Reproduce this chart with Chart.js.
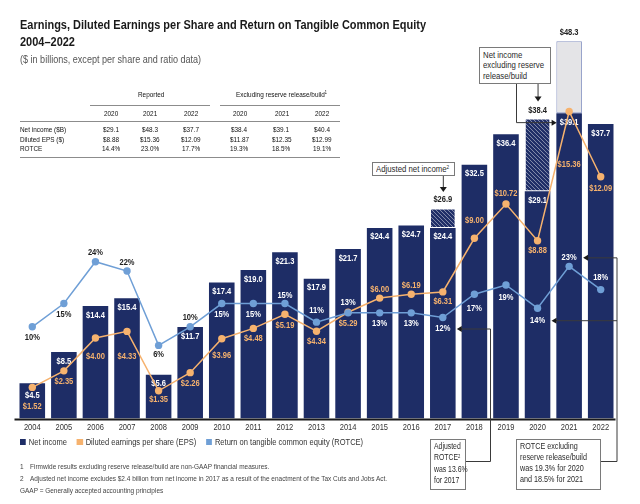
<!DOCTYPE html>
<html>
<head>
<meta charset="utf-8">
<script src="https://cdn.jsdelivr.net/npm/chart.js@4.4.1/dist/chart.umd.min.js"></script>
<style>
body { margin:0; background:#fff; }
#wrap { position:relative; width:640px; height:504px; overflow:hidden; font-family:"Liberation Sans",Arial,sans-serif; color:#222; }
#wrap canvas { position:absolute; left:0; top:0; }
.t { position:absolute; white-space:nowrap; transform-origin:0 0; }
.title { font-size:12px; font-weight:bold; line-height:17px; color:#1a1a1a; }
.sub { font-size:10px; line-height:12px; color:#555; }
.tb { font-size:7.8px; line-height:9px; color:#111; }
.rule { position:absolute; height:0; border-top:1px solid #8c8c8c; }
.box { position:absolute; border:1px solid #7a7a7a; background:#fff; box-sizing:border-box; white-space:nowrap; color:#2a2a2a; padding-left:3px; }
.box span.in { display:inline-block; transform:scaleX(0.82); transform-origin:0 0; color:#2a2a2a; }
.sup { font-size:60%; position:relative; top:-0.45em; }
.legend { position:absolute; left:20px; top:437px; font-size:9.2px; line-height:11px; color:#333; white-space:nowrap; transform:scaleX(0.82); transform-origin:0 0; }
.legend span.sq { display:inline-block; width:7.3px; height:6px; margin-right:3.5px; vertical-align:0px; }
.legend span.it { margin-right:12px; }
.fn { font-size:7.9px; line-height:9px; color:#444; }
</style>
</head>
<body>
<div id="wrap">
  <canvas id="chart" width="640" height="504"></canvas>
</div>
<script>
// chart data
const years = ['2004','2005','2006','2007','2008','2009','2010','2011','2012','2013','2014','2015','2016','2017','2018','2019','2020','2021','2022']
const netIncome = [4.5, 8.5, 14.4, 15.4, 5.6, 11.7, 17.4, 19.0, 21.3, 17.9, 21.7, 24.4, 24.7, 24.4, 32.5, 36.4, 29.1, 48.3, 37.7]
// adjusted (2017) and excluding reserve release/build (2020, 2021)
const netIncomeAdj = [null, null, null, null, null, null, null, null, null, null, null, null, null, 26.9, null, null, 38.4, 39.1, null]
const eps = [1.52, 2.35, 4.00, 4.33, 1.35, 2.26, 3.96, 4.48, 5.19, 4.34, 5.29, 6.00, 6.19, 6.31, 9.00, 10.72, 8.88, 15.36, 12.09]
const rotce = [10, 15, 24, 22, 6, 10, 15, 15, 15, 11, 13, 13, 13, 12, 17, 19, 14, 23, 18]

// table data
const tableYears = ['2020', '2021', '2022']
const reportedNet = [29.1, 48.3, 37.7]
const exReserveNet = [38.4, 39.1, 40.4]
const reportedEps = [8.88, 15.36, 12.09]
const exReserveEps = [11.87, 12.35, 12.99]
const reportedRotce = [14.4, 23.0, 17.7]
const exReserveRotce = [19.3, 18.5, 19.1]

// label offsets (px from the point)
const epsLabelDy = [19, 11, 18, 25, 9, 11, 17, 10, 11, 10, 11, -9, -9, 10, -18, -11, 10, 53, 12]
const rotceLabelDy = [11, 11, -9, -9, 9, -9, 11, 11, -8, -12, -10, 11, 11, 11, 14, 13, 12, -9, -12]

const navy = '#1e2d66'
const orange = '#f6b26e'
const blue = '#6f9fd6'
const FONT = '"Liberation Sans",Arial,sans-serif'
const K = 0.82 // horizontal squeeze, the original uses a condensed face

const wrap = document.getElementById('wrap')

function put(html, x, y, cls, align, k){
    k = k || K
    const d = document.createElement('div')
    d.className = 't ' + cls
    d.innerHTML = html
    d.style.transform = 'scaleX(' + k + ')'
    wrap.appendChild(d)
    const lh = parseFloat(getComputedStyle(d).lineHeight)
    const w = d.offsetWidth * k
    d.style.top = (y - lh / 2) + 'px'
    d.style.left = (align === 'center' ? x - w / 2 : align === 'right' ? x - w : x) + 'px'
    return d
}
function rule(x1, x2, y){
    const d = document.createElement('div')
    d.className = 'rule'
    d.style.left = x1 + 'px'
    d.style.width = (x2 - x1) + 'px'
    d.style.top = y + 'px'
    wrap.appendChild(d)
}
function box(html, x, y, w, h, size, lh, padTop){
    const d = document.createElement('div')
    d.className = 'box'
    d.style.left = x + 'px'; d.style.top = y + 'px'
    d.style.width = w + 'px'; d.style.height = h + 'px'
    d.style.fontSize = size + 'px'; d.style.lineHeight = lh + 'px'
    d.style.paddingTop = padTop + 'px'
    d.innerHTML = '<span class="in">' + html + '</span>'
    wrap.appendChild(d)
}

// title
put('Earnings, Diluted Earnings per Share and Return on Tangible Common Equity', 20, 25, 'title', 'left', 0.915)
put('2004–2022', 20, 42.3, 'title', 'left', 0.915)
put('($ in billions, except per share and ratio data)', 20, 60, 'sub', 'left', 0.905)

// table
const colX = [111, 150, 191, 239.5, 281.5, 322]
put('Reported', 151, 94.3, 'tb', 'center')
put('Excluding reserve release/build<span class="sup">1</span>', 282, 94, 'tb', 'center')
rule(90, 210, 104.5)
rule(220, 340, 104.5)
tableYears.concat(tableYears).forEach((y, i) => put(y, colX[i], 113.3, 'tb', 'center'))
rule(20, 340, 120.5)
const money1 = v => '$' + v.toFixed(1)
const money2 = v => '$' + v.toFixed(2)
const pct = v => v.toFixed(1) + '%'
const rows = [
    ['Net income ($B)', reportedNet.concat(exReserveNet).map(money1), 129.3],
    ['Diluted EPS ($)', reportedEps.concat(exReserveEps).map(money2), 139.2],
    ['ROTCE', reportedRotce.concat(exReserveRotce).map(pct), 148.7]
]
rows.forEach(r => {
    put(r[0], 20, r[2], 'tb')
    r[1].forEach((v, i) => put(v, colX[i], r[2], 'tb', 'center'))
})
rule(20, 340, 156.5)

// annotation boxes
box('Adjusted net income<span class="sup">2</span>', 372, 161.5, 83, 14, 9.5, 11, 0.5)
box('Net income<br>excluding reserve<br>release/build', 479, 46.5, 71.5, 37, 9.5, 10.8, 2)
box('Adjusted<br>ROTCE<span class="sup">2</span><br>was 13.6%<br>for 2017', 430, 438.5, 36, 51, 8.4, 11, 1.5)
box('ROTCE excluding<br>reserve release/build<br>was 19.3% for 2020<br>and 18.5% for 2021', 516, 438.5, 84.5, 51, 8.8, 11, 1.5)

// legend
const lg = document.createElement('div')
lg.className = 'legend'
lg.innerHTML = '<span class="it"><span class="sq" style="background:' + navy + '"></span>Net income</span>' +
    '<span class="it"><span class="sq" style="background:' + orange + '"></span>Diluted earnings per share (EPS)</span>' +
    '<span class="it"><span class="sq" style="background:' + blue + '"></span>Return on tangible common equity (ROTCE)</span>'
wrap.appendChild(lg)

// footnotes
put('1', 20, 466.7, 'fn')
put('Firmwide results excluding reserve release/build are non-GAAP financial measures.', 30, 466.7, 'fn')
put('2', 20, 478.3, 'fn')
put('Adjusted net income excludes $2.4 billion from net income in 2017 as a result of the enactment of the Tax Cuts and Jobs Act.', 30, 478.3, 'fn')
put('GAAP = Generally accepted accounting principles', 20, 490, 'fn')

// hatch pattern for adjusted bars
function hatch(){
    const c = document.createElement('canvas')
    c.width = 4; c.height = 4
    const g = c.getContext('2d')
    g.fillStyle = '#fff'
    g.fillRect(0, 0, 4, 4)
    g.strokeStyle = navy
    g.lineWidth = 2.5
    g.beginPath()
    g.moveTo(-1, -1); g.lineTo(5, 5)
    g.moveTo(3, -1); g.lineTo(5, 1)
    g.moveTo(-1, 3); g.lineTo(1, 5)
    g.stroke()
    return g.createPattern(c, 'repeat')
}
const pattern = hatch()

const baseBars = netIncome.map((v, i) => netIncomeAdj[i] == null ? v : Math.min(v, netIncomeAdj[i]))
const extraBars = netIncome.map((v, i) => netIncomeAdj[i] == null ? null : [Math.min(v, netIncomeAdj[i]), Math.max(v, netIncomeAdj[i])])
const extraFill = netIncome.map((v, i) => netIncomeAdj[i] != null && netIncomeAdj[i] < v ? '#e4e4e7' : pattern)
const extraBorder = netIncome.map((v, i) => netIncomeAdj[i] != null && netIncomeAdj[i] < v ? '#8793c2' : 'rgba(0,0,0,0)')

function text(ctx, str, x, y){
    ctx.save()
    ctx.translate(x, y)
    ctx.scale(K, 1)
    ctx.fillText(str, 0, 0)
    ctx.restore()
}

function arrow(ctx, x, y, dir){
    ctx.beginPath()
    if (dir === 'left'){ ctx.moveTo(x, y); ctx.lineTo(x + 5, y - 3); ctx.lineTo(x + 5, y + 3) }
    if (dir === 'right'){ ctx.moveTo(x, y); ctx.lineTo(x - 5, y - 3); ctx.lineTo(x - 5, y + 3) }
    if (dir === 'down'){ ctx.moveTo(x, y); ctx.lineTo(x - 3.5, y - 5); ctx.lineTo(x + 3.5, y - 5) }
    ctx.closePath()
    ctx.fill()
}

const labelsPlugin = {
    id: 'labels',
    afterDatasetDraw(chart, args){
        if (args.index !== 1) return
        const ctx = chart.ctx
        ctx.save()
        ctx.font = 'bold 9.2px ' + FONT
        ctx.textAlign = 'center'
        ctx.textBaseline = 'middle'
        chart.getDatasetMeta(0).data.forEach((el, i) => {
            ctx.fillStyle = '#fff'
            text(ctx, '$' + baseBars[i].toFixed(1), el.x, el.y + (i === 0 ? 12 : 9))
        })
        chart.getDatasetMeta(1).data.forEach((el, i) => {
            if (!extraBars[i]) return
            ctx.fillStyle = '#222'
            text(ctx, '$' + extraBars[i][1].toFixed(1), el.x, Math.min(el.y, el.base) - 8.5)
        })
        ctx.restore()
    },
    afterDatasetsDraw(chart){
        const ctx = chart.ctx
        const area = chart.chartArea
        const bars = chart.getDatasetMeta(0).data
        ctx.save()
        ctx.textAlign = 'center'
        ctx.textBaseline = 'middle'
        ctx.font = 'bold 9.2px ' + FONT
        chart.getDatasetMeta(2).data.forEach((el, i) => {
            ctx.fillStyle = orange
            text(ctx, '$' + eps[i].toFixed(2), el.x, el.y + epsLabelDy[i])
        })
        chart.getDatasetMeta(3).data.forEach((el, i) => {
            const ly = el.y + rotceLabelDy[i]
            ctx.fillStyle = ly > bars[i].y - 3 ? '#fff' : '#222'
            text(ctx, rotce[i] + '%', el.x, ly)
        })
        // year labels and axis line
        ctx.font = '9.2px ' + FONT
        ctx.fillStyle = '#333'
        bars.forEach((el, i) => text(ctx, years[i], el.x, area.bottom + 8.5))
        ctx.strokeStyle = '#1a1a1a'
        ctx.lineWidth = 2
        ctx.beginPath()
        ctx.moveTo(area.left - 2, area.bottom + 1)
        ctx.lineTo(area.right - 1, area.bottom + 1)
        ctx.stroke()

        // connectors
        const rot = chart.getDatasetMeta(3).data
        ctx.strokeStyle = '#3a3a3a'
        ctx.fillStyle = '#1a1a1a'
        ctx.lineWidth = 1
        const x17 = bars[13].x, x20 = bars[16].x, x21 = bars[17].x
        ctx.beginPath()
        ctx.moveTo(x17 + 0.5, 175.5); ctx.lineTo(x17 + 0.5, 189)
        ctx.moveTo(x20 + 0.5, 83.5); ctx.lineTo(x20 + 0.5, 98)
        const y21 = bars[17].y + 9
        ctx.moveTo(516.5, 83.5); ctx.lineTo(516.5, y21 + 0.5); ctx.lineTo(x21 - 17, y21 + 0.5)
        // adjusted ROTCE
        const y12 = rot[13].y + rotceLabelDy[13]
        ctx.moveTo(465.5, 461.5); ctx.lineTo(490.5, 461.5); ctx.lineTo(490.5, y12 + 0.5); ctx.lineTo(x17 + 18, y12 + 0.5)
        // ROTCE excluding
        const y23 = rot[17].y + rotceLabelDy[17]
        const y14 = rot[16].y + rotceLabelDy[16]
        ctx.moveTo(600, 461.5); ctx.lineTo(area.right + 0.5, 461.5); ctx.lineTo(area.right + 0.5, y23 + 0.5); ctx.lineTo(x21 + 18, y23 + 0.5)
        ctx.moveTo(area.right + 0.5, y14 + 0.5); ctx.lineTo(x20 + 18, y14 + 0.5)
        ctx.stroke()
        arrow(ctx, x17 + 0.5, 192, 'down')
        arrow(ctx, x20 + 0.5, 101.5, 'down')
        arrow(ctx, x21 - 12.5, y21 + 0.5, 'right')
        arrow(ctx, x17 + 14, y12 + 0.5, 'left')
        arrow(ctx, x21 + 14, y23 + 0.5, 'left')
        arrow(ctx, x20 + 14, y14 + 0.5, 'left')
        ctx.restore()
    }
}

const ctx = document.getElementById('chart')

new Chart(ctx, {
    type: 'bar',
    data: {
        labels: years,
        datasets: [{
            label: 'Net income',
            data: baseBars,
            backgroundColor: navy,
            yAxisID: 'y',
            grouped: false,
            order: 4,
            barPercentage: 0.81,
            categoryPercentage: 1
        }, {
            label: 'Net income adjusted',
            data: extraBars,
            backgroundColor: extraFill,
            borderColor: extraBorder,
            borderWidth: 1,
            borderSkipped: false,
            yAxisID: 'y',
            grouped: false,
            order: 3,
            barPercentage: 0.81,
            categoryPercentage: 1
        }, {
            type: 'line',
            label: 'Diluted earnings per share (EPS)',
            data: eps,
            borderColor: orange,
            backgroundColor: orange,
            borderWidth: 1.5,
            pointRadius: 3.7,
            pointBorderWidth: 0,
            yAxisID: 'yEps',
            order: 2
        }, {
            type: 'line',
            label: 'Return on tangible common equity (ROTCE)',
            data: rotce,
            borderColor: blue,
            backgroundColor: blue,
            borderWidth: 1.5,
            pointRadius: 3.7,
            pointBorderWidth: 0,
            yAxisID: 'yRot',
            order: 1
        }]
    },
    options: {
        responsive: false,
        animation: false,
        layout: { padding: { left: 16.5, right: 23.5, top: 28, bottom: 85.5 } },
        plugins: { legend: { display: false }, tooltip: { enabled: false } },
        scales: {
            x: { display: false },
            y: { display: false, min: 0, max: 50 },
            yEps: { display: false, min: -0.04, max: 19.55 },
            yRot: { display: false, min: -9.72, max: 74.26 }
        }
    },
    plugins: [labelsPlugin]
});
</script>
</body>
</html>
